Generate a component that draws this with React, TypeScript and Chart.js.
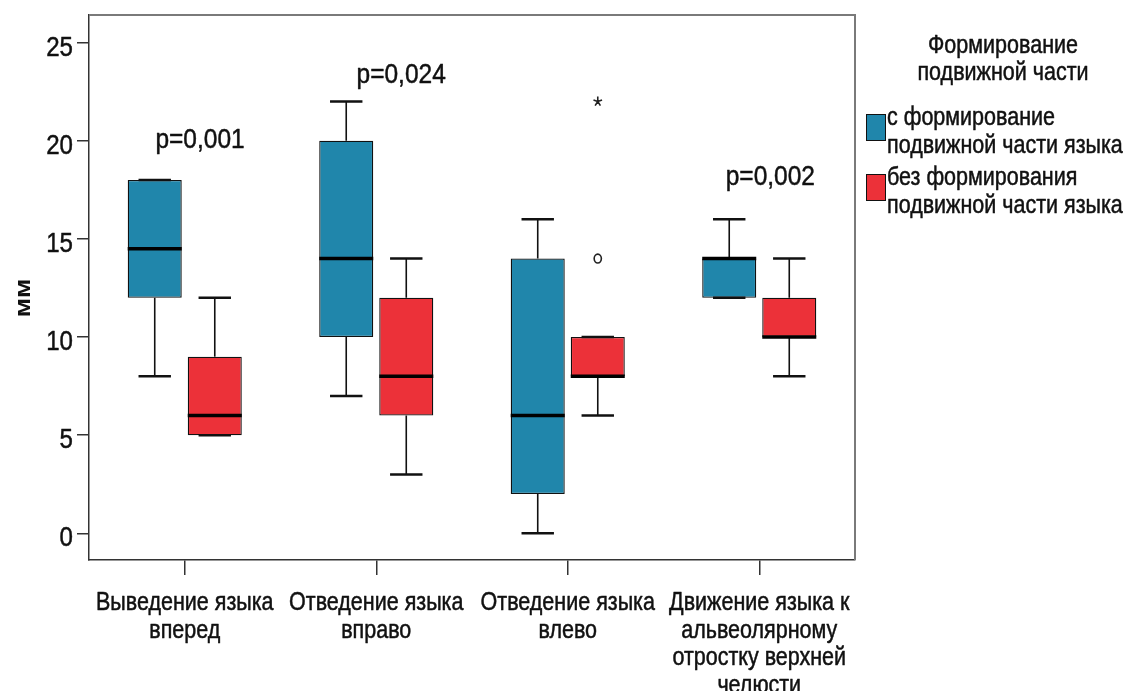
import { useEffect, useRef } from 'react';
import { Chart, registerables } from 'chart.js';

Chart.register(...registerables);

// Category labels (multi-line)
const categories: string[][] = [
  ['Выведение языка', 'вперед'],
  ['Отведение языка', 'вправо'],
  ['Отведение языка', 'влево'],
  ['Движение языка к', 'альвеолярному', 'отростку верхней', 'челюсти'],
];

const legendTitle = ['Формирование', 'подвижной части'];
const seriesLabels: string[][] = [
  ['с формирование', 'подвижной части языка'],
  ['без формирования', 'подвижной части языка'],
];
const seriesColors = ['#2086ab', '#ec3139'];
const axisTitle = 'мм';

// Group: с формированием подвижной части языка
const withMin = [8, 7, 0, 12];
const withQ1 = [12, 10, 2, 12];
const withMedian = [14.5, 14, 6, 14];
const withQ3 = [18, 20, 14, 14];
const withMax = [18, 22, 16, 16];

// Group: без формирования подвижной части языка
const withoutMin = [5, 3, 6, 8];
const withoutQ1 = [5, 6, 8, 10];
const withoutMedian = [6, 8, 8, 10];
const withoutQ3 = [9, 12, 10, 12];
const withoutMax = [12, 14, 10, 14];

// Outliers: [category index, series index, value]
const outlierCircles: number[][] = [[2, 1, 14]];
const outlierStars: number[][] = [[2, 1, 22]];

// Significance labels per category
const pLabels = ['p=0,001', 'p=0,024', '', 'p=0,002'];
const pLabelValues = [20.2, 23.5, 0, 18.3];
const pLabelShift = [0.08, 0.13, 0, 0.058];

const yTicks = [0, 5, 10, 15, 20, 25];
const yMin = -1.36;
const yMax = 26.41;

const FONT = '"Liberation Sans", Arial, sans-serif';
// Glyphs are drawn slightly condensed
const SX = 0.86;

const stats = [
  { min: withMin, q1: withQ1, med: withMedian, q3: withQ3, max: withMax },
  { min: withoutMin, q1: withoutQ1, med: withoutMedian, q3: withoutQ3, max: withoutMax },
];

function narrowText(
  ctx: CanvasRenderingContext2D,
  text: string,
  x: number,
  y: number,
  align: CanvasTextAlign,
  baseline: CanvasTextBaseline = 'alphabetic'
) {
  ctx.save();
  ctx.translate(x, y);
  ctx.scale(SX, 1);
  ctx.textAlign = align;
  ctx.textBaseline = baseline;
  ctx.strokeStyle = ctx.fillStyle as string;
  ctx.lineWidth = 0.5;
  ctx.lineJoin = 'round';
  ctx.fillText(text, 0, 0);
  ctx.strokeText(text, 0, 0);
  ctx.restore();
}

const boxPlugin = {
  id: 'boxExtras',
  afterDatasetsDraw(chart: any) {
    const ctx = chart.ctx as CanvasRenderingContext2D;
    const y = chart.scales.y;
    const x = chart.scales.x;
    const area = chart.chartArea;
    ctx.save();
    stats.forEach((s, di) => {
      const meta = chart.getDatasetMeta(di);
      meta.data.forEach((el: any, i: number) => {
        const cx = el.x;
        const w = el.width;
        const cap = w * 0.6;
        const yMinP = y.getPixelForValue(s.min[i]);
        const yQ1 = y.getPixelForValue(s.q1[i]);
        const yQ3 = y.getPixelForValue(s.q3[i]);
        const yMaxP = y.getPixelForValue(s.max[i]);
        const yMed = y.getPixelForValue(s.med[i]);
        ctx.strokeStyle = '#111';
        ctx.lineWidth = 1.6;
        ctx.beginPath();
        ctx.moveTo(cx, yMaxP);
        ctx.lineTo(cx, yQ3);
        ctx.moveTo(cx, yQ1);
        ctx.lineTo(cx, yMinP);
        ctx.stroke();
        ctx.lineWidth = 2.4;
        ctx.beginPath();
        ctx.moveTo(cx - cap / 2, yMaxP);
        ctx.lineTo(cx + cap / 2, yMaxP);
        ctx.moveTo(cx - cap / 2, yMinP);
        ctx.lineTo(cx + cap / 2, yMinP);
        ctx.stroke();
        ctx.lineWidth = 3.6;
        ctx.strokeStyle = '#000';
        ctx.beginPath();
        ctx.moveTo(el.x - w / 2, yMed);
        ctx.lineTo(el.x + w / 2, yMed);
        ctx.stroke();
      });
    });

    // Outliers
    outlierCircles.forEach(([ci, si, v]) => {
      const el: any = chart.getDatasetMeta(si).data[ci];
      ctx.beginPath();
      ctx.fillStyle = '#fff';
      ctx.strokeStyle = '#222';
      ctx.lineWidth = 1.6;
      ctx.ellipse(el.x, y.getPixelForValue(v), 3.6, 4.4, 0, 0, Math.PI * 2);
      ctx.fill();
      ctx.stroke();
    });
    outlierStars.forEach(([ci, si, v]) => {
      const el: any = chart.getDatasetMeta(si).data[ci];
      const py = y.getPixelForValue(v);
      ctx.strokeStyle = '#222';
      ctx.lineWidth = 1.6;
      ctx.beginPath();
      for (let k = 0; k < 5; k++) {
        const a = -Math.PI / 2 + (k * 2 * Math.PI) / 5;
        ctx.moveTo(el.x, py);
        ctx.lineTo(el.x + Math.cos(a) * 4.5, py + Math.sin(a) * 5);
      }
      ctx.stroke();
    });

    // Significance labels
    const catW = (area.right - area.left) / categories.length;
    ctx.fillStyle = '#111';
    ctx.font = `28.5px ${FONT}`;
    pLabels.forEach((t, i) => {
      if (!t) return;
      const px = x.getPixelForValue(i) + pLabelShift[i] * catW;
      narrowText(ctx, t, px, y.getPixelForValue(pLabelValues[i]) + 11, 'center');
    });
    ctx.restore();
  },
  afterDraw(chart: any) {
    const ctx = chart.ctx as CanvasRenderingContext2D;
    const area = chart.chartArea;
    const x = chart.scales.x;
    const y = chart.scales.y;
    ctx.save();
    // Frame: top and right edges
    ctx.strokeStyle = '#7a7a7a';
    ctx.lineWidth = 2;
    ctx.beginPath();
    ctx.moveTo(area.left, area.top);
    ctx.lineTo(area.right, area.top);
    ctx.lineTo(area.right, area.bottom);
    ctx.stroke();

    ctx.fillStyle = '#111';

    // Y tick labels
    ctx.font = `28px ${FONT}`;
    yTicks.forEach((v) => {
      narrowText(ctx, String(v), 73, y.getPixelForValue(v) + 13, 'right');
    });

    // Category labels
    ctx.font = `25px ${FONT}`;
    categories.forEach((lines, i) => {
      const cx = x.getPixelForValue(i);
      lines.forEach((t, li) => narrowText(ctx, t, cx, 610 + li * 27.5, 'center'));
    });

    // Axis title
    ctx.save();
    ctx.font = `bold 26px ${FONT}`;
    ctx.translate(30, 298);
    ctx.rotate(-Math.PI / 2);
    ctx.scale(1, SX);
    ctx.textAlign = 'center';
    ctx.textBaseline = 'alphabetic';
    ctx.fillText(axisTitle, 0, 0);
    ctx.restore();

    // Legend
    ctx.font = `25px ${FONT}`;
    legendTitle.forEach((t, i) => narrowText(ctx, t, 1003, 53 + i * 27, 'center'));
    seriesLabels.forEach((lines, si) => {
      const top = 114 + si * 60;
      ctx.fillStyle = seriesColors[si];
      ctx.fillRect(866, top, 19, 26);
      ctx.strokeStyle = '#111';
      ctx.lineWidth = 1;
      ctx.strokeRect(866.5, top + 0.5, 19, 26);
      ctx.fillStyle = '#111';
      lines.forEach((t, li) => narrowText(ctx, t, 887, top + 11 + li * 28, 'left'));
    });
    ctx.restore();
  },
};

export default function App() {
  const ref = useRef<HTMLCanvasElement>(null);
  useEffect(() => {
    if (!ref.current) return;
    const chart = new Chart(ref.current, {
      type: 'bar',
      data: {
        labels: categories,
        datasets: stats.map((s, si) => ({
          label: seriesLabels[si].join(' '),
          data: s.q1.map((q, i) => [q, s.q3[i]]),
          backgroundColor: seriesColors[si],
          borderColor: '#111',
          borderWidth: 1.3,
          borderSkipped: false,
          categoryPercentage: 0.627,
          barPercentage: 0.9,
        })),
      },
      options: {
        responsive: false,
        animation: false,
        layout: { padding: { top: 15, right: 273, left: 0, bottom: 0 } },
        plugins: { legend: { display: false }, tooltip: { enabled: false } },
        scales: {
          x: {
            type: 'category',
            offset: true,
            grid: {
              display: true,
              offset: false,
              drawOnChartArea: false,
              drawTicks: true,
              tickLength: 15,
              color: '#333',
              lineWidth: 1.5,
            },
            border: { display: true, color: '#333', width: 1.5 },
            ticks: { display: false, autoSkip: false },
            afterFit: (s: any) => {
              s.height = 131;
            },
          },
          y: {
            min: yMin,
            max: yMax,
            afterBuildTicks: (s: any) => {
              s.ticks = yTicks.map((v) => ({ value: v }));
            },
            grid: {
              display: true,
              drawOnChartArea: false,
              drawTicks: true,
              tickLength: 12,
              color: '#333',
              lineWidth: 1.5,
            },
            border: { display: true, color: '#333', width: 1.5 },
            ticks: { display: false },
            afterFit: (s: any) => {
              s.width = 89;
            },
          },
        },
      },
      plugins: [boxPlugin],
    } as any);
    return () => chart.destroy();
  }, []);
  return (
    <div style={{ position: 'fixed', left: 0, top: 0, width: 1128, height: 691, background: '#fff' }}>
      <canvas ref={ref} width={1128} height={691} />
    </div>
  );
}
